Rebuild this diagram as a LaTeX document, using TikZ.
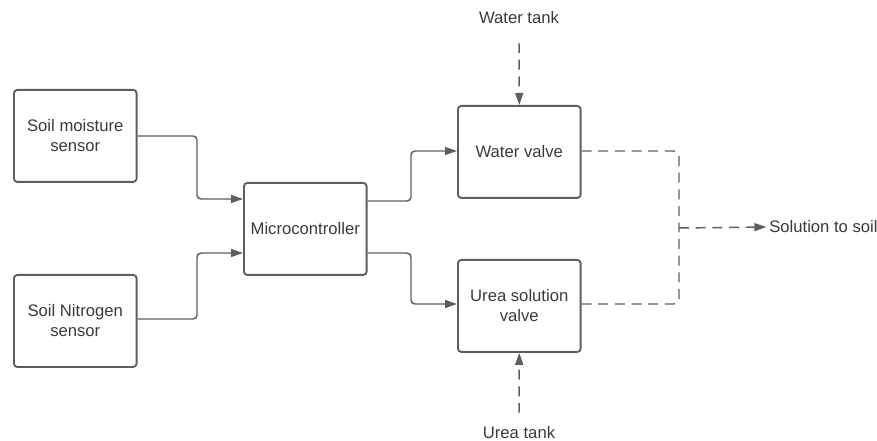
\documentclass[tikz,border=0pt]{standalone}
\usepackage{fontspec}
\setmainfont{Liberation Sans}
\usetikzlibrary{arrows.meta}
\definecolor{linegray}{HTML}{5E5E5E}
\definecolor{textgray}{HTML}{3A3A3A}
\begin{document}
\begin{tikzpicture}[x=0.75pt,y=-0.75pt,
  box/.style={draw=linegray, line width=1.4pt, rounded corners=2.5pt, minimum width=92pt, minimum height=69pt, inner sep=0pt, align=center, text=textgray, font=\fontsize{12.5}{15}\selectfont, anchor=north west},
  lbl/.style={text=textgray, font=\fontsize{12.5}{15}\selectfont, inner sep=0pt},
  conn/.style={draw=linegray, line width=1.1pt, rounded corners=3pt, -{Triangle[length=9pt,width=6pt]}},
  dconn/.style={conn, dash pattern=on 7.5pt off 5pt}]
\useasboundingbox (0,0) rectangle (877,441);
\node[box] (sm) at (13,89) {Soil moisture\\sensor};
\node[box] (sn) at (13,274) {Soil Nitrogen\\sensor};
\node[box] (mc) at (243,182) {Microcontroller};
\node[box] (wv) at (457,105) {Water valve};
\node[box] (uv) at (457,259) {Urea solution\\valve};
\node[lbl] (wt) at (519,18) {Water tank};
\node[lbl] (ut) at (519,433) {Urea tank};
\node[lbl, anchor=west] (ss) at (769,227) {Solution to soil};
\coordinate (wts) at (519,43);
\coordinate (uts) at (519,413);
\coordinate (jn) at (679,228);
% solid connectors
\draw[conn] (sm.east |- 0,136) -| (197,199) -- (mc.west |- 0,199);
\draw[conn] (sn.east |- 0,319) -| (197,253) -- (mc.west |- 0,253);
\draw[conn] (mc.east |- 0,201) -| (411,151) -- (wv.west |- 0,151);
\draw[conn] (mc.east |- 0,253) -| (411,304) -- (uv.west |- 0,304);
% dashed connectors
\draw[dconn] (wts) -- (wv.north);
\draw[dconn] (uts) -- (uv.south);
\draw[dconn, -, rounded corners=4pt] (wv.east |- 0,151) -| (jn);
\draw[dconn, -, rounded corners=4pt] (uv.east |- 0,304) -| (jn);
\draw[dconn, shorten >=2pt] (jn) -- (ss.west);
\end{tikzpicture}
\end{document}
